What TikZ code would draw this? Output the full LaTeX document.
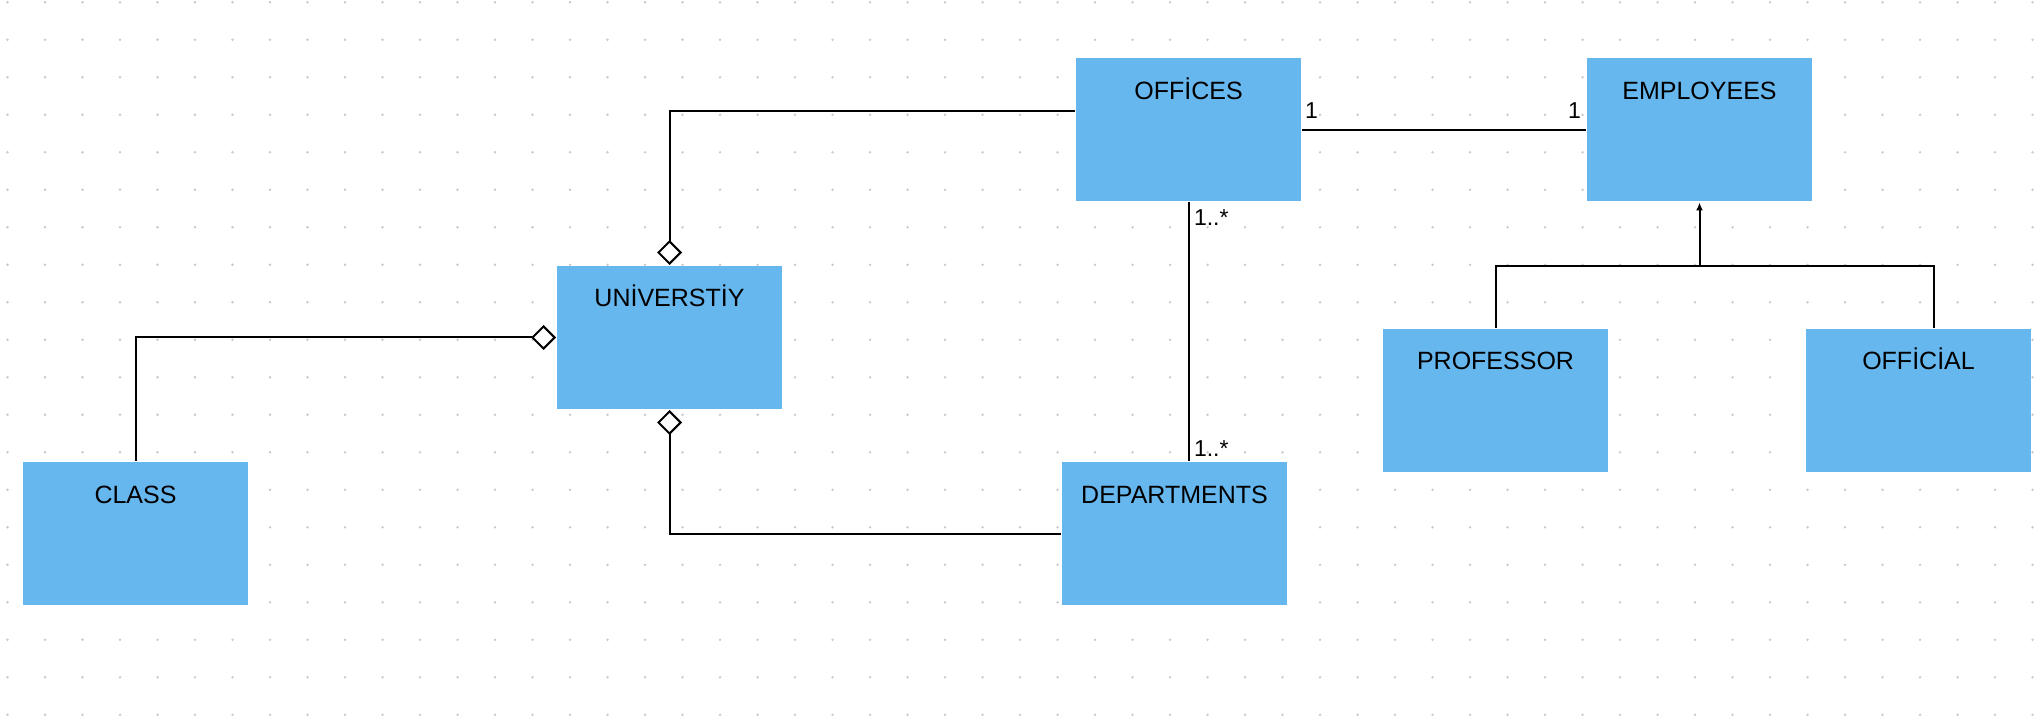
\documentclass[tikz,border=0pt]{standalone}
\usepackage{fontspec}
\setmainfont{Liberation Sans}
\usetikzlibrary{%
    arrows.meta,
    positioning
}
\definecolor{boxblue}{RGB}{103,183,239}
\definecolor{dotgray}{RGB}{200,200,200}
\tikzset{classbox/.style = {rectangle, fill=boxblue, minimum width=112.5pt, inner sep=0pt,
    text height=20.5pt, text depth=51pt, font=\fontsize{12.5}{15}\selectfont}}
\tikzset{multlabel/.style = {inner sep=1pt, font=\fontsize{11.5}{14}\selectfont}}
\tikzset{aggrline/.style = {{Diamond[open, length=12.5pt, width=12.5pt]}-}}
\tikzset{genarrow/.style = {-{Latex[length=4pt, width=3.5pt]}}}

\begin{document}
\begin{tikzpicture}[x=0.5pt, y=-0.5pt, line width=1pt]
    \fill[white] (0,0) rectangle (2041,726);
    \useasboundingbox (0,0) rectangle (2041,726);
    \foreach \i in {0,...,54}
        \foreach \j in {0,...,19}
            \fill[dotgray] (7.5+37.5*\i, 2.3+37.5*\j) circle (0.65pt);

    \node[classbox] (n-offices) at (1188.5,130) {OFFİCES};
    \node[classbox] (n-employees) [right=142pt of n-offices] {EMPLOYEES};
    \node[classbox] (n-univ) at (669.5,337.5) {UNİVERSTİY};
    \node[classbox] (n-class) at (135.5,534) {CLASS};
    \node[classbox] (n-dept) at (1174.5,534) {DEPARTMENTS};
    \node[classbox] (n-prof) at (1495.5,400.5) {PROFESSOR};
    \node[classbox] (n-official) [right=98pt of n-prof] {OFFİCİAL};
    \coordinate (n-gen) at ([yshift=-32pt]n-employees.south);

    \draw[aggrline] (n-univ.north) |- ([yshift=9.5pt]n-offices.west);
    \draw[aggrline] (n-univ.west) -| (n-class.north);
    \draw[aggrline] (n-univ.south) |- (n-dept.west);

    \draw (n-offices.east) -- (n-employees.west)
        node[multlabel, pos=0, above right=4pt and 0pt] {1}
        node[multlabel, pos=1, above left=4pt and 1pt] {1};
    \draw (n-offices.south) -- (n-offices.south |- n-dept.north)
        node[multlabel, pos=0, below right=2pt and 1.25pt] {1..*}
        node[multlabel, pos=1, above right=1pt and 1.25pt] {1..*};

    \draw (n-prof.north) |- (n-gen);
    \draw ([xshift=7.5pt]n-official.north) |- (n-gen);
    \draw[genarrow] (n-gen) -- (n-employees.south);
\end{tikzpicture}
\end{document}
